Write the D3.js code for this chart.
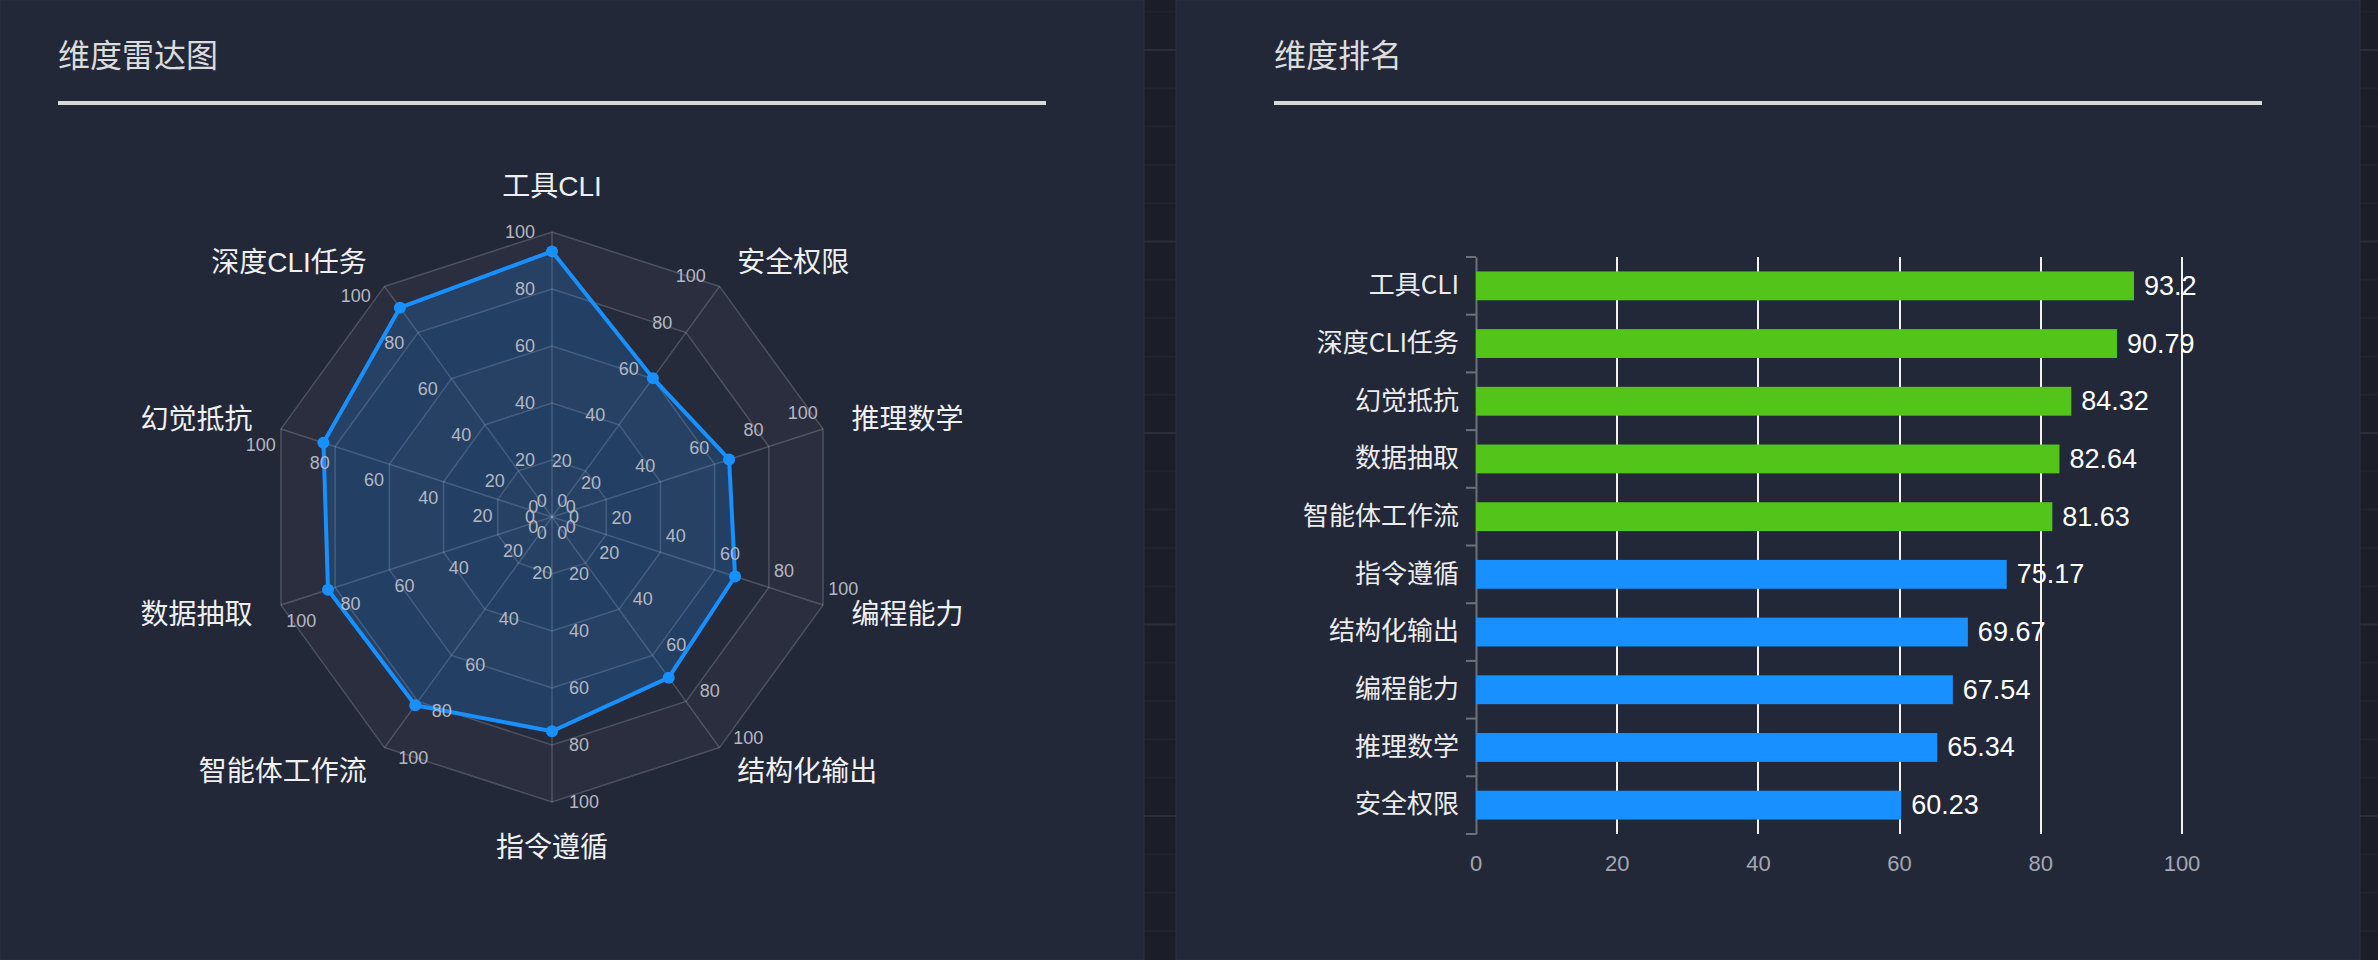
<!DOCTYPE html>
<html><head><meta charset="utf-8">
<script src="https://cdn.jsdelivr.net/npm/d3@7/dist/d3.min.js"></script>
<style>
html,body{margin:0;padding:0;background:#1b1e29;}
svg{display:block;font-family:"Liberation Sans","Noto Sans CJK SC",sans-serif;}
</style></head>
<body><svg id="c" width="2378" height="960"></svg>
<script>
// ---- data ----
const dimensions = ['工具CLI','安全权限','推理数学','编程能力','结构化输出','指令遵循','智能体工作流','数据抽取','幻觉抵抗','深度CLI任务'];
const scores = [93.2, 60.23, 65.34, 67.54, 69.67, 75.17, 81.63, 82.64, 84.32, 90.79];
const radarTicks = [0, 20, 40, 60, 80, 100];
const barTicks = [0, 20, 40, 60, 80, 100];
const titles = ['维度雷达图', '维度排名'];
const highThreshold = 80;

const svg = d3.select('#c');
const W = 2378, H = 960;

// page background grid
const bg = svg.append('g');
bg.append('rect').attr('width', W).attr('height', H).attr('fill', '#1b1e29');
const gridY = d3.range(-4, 26).map(i => 50 + i * 38.3);
bg.selectAll('line.g').data(gridY).join('line')
  .attr('x1', 0).attr('x2', W).attr('y1', d => d).attr('y2', d => d)
  .attr('stroke', (d, i) => ((i + 1) % 5 === 0) ? '#2b2e3a' : '#21242f').attr('stroke-width', 2);

// panels
const panels = [{x: 0, w: 1144}, {x: 1176, w: 1184}];
svg.selectAll('rect.panel').data(panels).join('rect')
  .attr('x', d => d.x).attr('y', 0).attr('width', d => d.w).attr('height', H)
  .attr('fill', '#232839').attr('stroke', '#2a2e44').attr('stroke-width', 1);

// titles + underline
const titleInfo = [{x: 58, x2: 1046}, {x: 1274, x2: 2262}];
titleInfo.forEach((t, i) => {
  svg.append('text').attr('x', t.x).attr('y', 53).attr('dominant-baseline', 'central')
    .attr('font-size', 32).attr('fill', '#dcdcdc').attr('font-family', '"Noto Sans CJK SC",sans-serif')
    .text(titles[i]);
  svg.append('rect').attr('x', t.x).attr('y', 101).attr('width', t.x2 - t.x).attr('height', 4).attr('fill', '#d9d9d9');
});

// ---- radar ----
const cx = 552, cy = 517, R = 285;
const n = dimensions.length;
const rScale = d3.scaleLinear().domain([0, 100]).range([0, R]);
const ang = i => i * 2 * Math.PI / n; // clockwise from top
const pt = (i, v) => [cx + rScale(v) * Math.sin(ang(i)), cy - rScale(v) * Math.cos(ang(i))];
const rg = svg.append('g');

// split areas
const rings = radarTicks.slice(1);
const ringPath = v => d3.range(n).map(i => pt(i, v));
rings.slice().reverse().forEach((v, k) => {
  const outer = ringPath(v), inner = ringPath(radarTicks[radarTicks.indexOf(v) - 1]);
  const d = 'M' + outer.join('L') + 'Z' + 'M' + inner.slice().reverse().join('L') + 'Z';
  rg.append('path').attr('d', d).attr('fill', k % 2 === 0 ? 'rgba(255,240,230,0.035)' : 'rgba(255,255,255,0.015)')
    .attr('fill-rule', 'evenodd');
});
// split lines
rg.selectAll('path.ring').data(rings).join('path')
  .attr('d', v => 'M' + ringPath(v).join('L') + 'Z')
  .attr('fill', 'none').attr('stroke', 'rgba(255,255,255,0.18)').attr('stroke-width', 1.5);
// axis lines
rg.selectAll('line.ax').data(dimensions).join('line')
  .attr('x1', cx).attr('y1', cy)
  .attr('x2', (d, i) => pt(i, 100)[0]).attr('y2', (d, i) => pt(i, 100)[1])
  .attr('stroke', 'rgba(255,255,255,0.18)').attr('stroke-width', 1.5);

// data area
const areaPts = scores.map((v, i) => pt(i, v));
const lineGen = d3.line().curve(d3.curveLinearClosed);
rg.append('path').attr('d', lineGen(areaPts))
  .attr('fill', 'rgba(24,144,255,0.2)').attr('stroke', '#1890ff').attr('stroke-width', 4).attr('stroke-linejoin', 'round');

// axis labels
const labG = svg.append('g');
dimensions.forEach((dname, i) => {
  const a = ang(i);
  const px = -Math.cos(a), py = -Math.sin(a);
  const anchor = px > 0.01 ? 'start' : (px < -0.01 ? 'end' : 'middle');
  radarTicks.forEach(v => {
    const p = pt(i, v);
    labG.append('text').attr('x', p[0] + px * 17).attr('y', p[1] + py * 17)
      .attr('text-anchor', anchor).attr('dominant-baseline', 'central')
      .attr('font-size', 18).attr('fill', '#b3b7c2').text(v);
  });
});

// points
rg.selectAll('circle.pt').data(areaPts).join('circle')
  .attr('cx', d => d[0]).attr('cy', d => d[1]).attr('r', 6).attr('fill', '#1890ff');

// axis names
dimensions.forEach((dname, i) => {
  const a = ang(i);
  const p = pt(i, 100);
  const dx = Math.sin(a), dy = -Math.cos(a);
  const x = p[0] + dx * 30, y = p[1] + dy * 30;
  let anchor = 'middle', base = 'central';
  if (Math.abs(dx) < 1e-3) { base = dy < 0 ? 'text-after-edge' : 'text-before-edge'; }
  else anchor = dx > 0 ? 'start' : 'end';
  svg.append('text').attr('x', x).attr('y', y).attr('text-anchor', anchor).attr('dominant-baseline', base)
    .attr('font-size', 28).attr('fill', '#f0f0f0').text(dname);
});

// ---- bar ranking ----
const ranked = dimensions.map((d, i) => ({name: d, v: scores[i]})).sort((a, b) => b.v - a.v);
const x0 = 1476, x1 = 2182, yTop = 257, yBot = 834;
const xS = d3.scaleLinear().domain([0, 100]).range([x0, x1]);
const yS = d3.scaleBand().domain(ranked.map(d => d.name)).range([yTop, yBot]);
const bg2 = svg.append('g');

// grid lines
bg2.selectAll('line.gl').data(barTicks.filter(t => t > 0)).join('line')
  .attr('x1', d => Math.round(xS(d))).attr('x2', d => Math.round(xS(d))).attr('y1', yTop).attr('y2', yBot)
  .attr('stroke', '#f2f2f2').attr('stroke-width', 2);

// x tick labels
bg2.selectAll('text.xt').data(barTicks).join('text')
  .attr('x', d => xS(d)).attr('y', 863).attr('text-anchor', 'middle').attr('dominant-baseline', 'central')
  .attr('font-size', 22).attr('fill', '#a3a7b1').text(d => d);

// y axis
const yAxis = d3.axisLeft(yS).tickSize(0).tickPadding(17);
const yg = bg2.append('g').attr('transform', `translate(${x0},0)`).call(yAxis);
yg.select('.domain').attr('stroke', '#6e7079').attr('stroke-width', 2);
yg.selectAll('text').attr('font-size', 26).attr('fill', '#ececec').attr('font-family', '"Noto Sans CJK SC",sans-serif');
const bounds = d3.range(ranked.length + 1).map(i => yTop + i * yS.step());
bg2.selectAll('line.yt').data(bounds).join('line')
  .attr('x1', x0 - 10).attr('x2', x0).attr('y1', d => d).attr('y2', d => d)
  .attr('stroke', '#6e7079').attr('stroke-width', 2);

// bars
const bh = yS.bandwidth() * 0.5;
bg2.selectAll('rect.bar').data(ranked).join('rect')
  .attr('x', x0).attr('y', d => yS(d.name) + (yS.bandwidth() - bh) / 2)
  .attr('width', d => xS(d.v) - x0).attr('height', bh)
  .attr('fill', d => d.v >= highThreshold ? '#52c41a' : '#1890ff');

// value labels
bg2.selectAll('text.val').data(ranked).join('text')
  .attr('x', d => xS(d.v) + 10).attr('y', d => yS(d.name) + yS.bandwidth() / 2)
  .attr('dominant-baseline', 'central').attr('font-size', 27).attr('fill', '#ffffff')
  .text(d => d.v);
</script></body></html>
